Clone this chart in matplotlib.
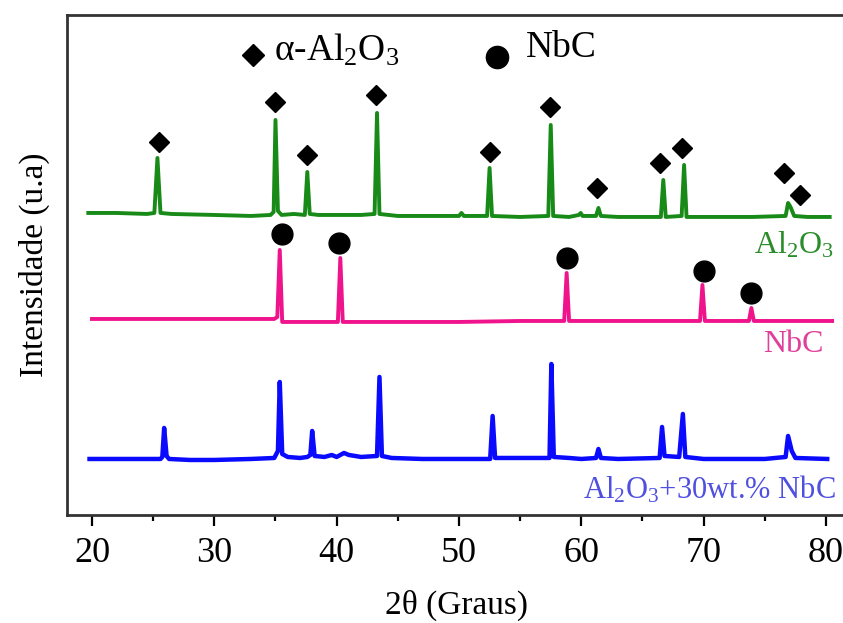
import matplotlib
matplotlib.use('Agg')
import matplotlib.pyplot as plt
from matplotlib.ticker import MultipleLocator

plt.rcParams['font.family'] = ['Liberation Serif', 'DejaVu Serif']
plt.rcParams['mathtext.default'] = 'regular'

# traces: 2-theta (deg) and counts above each trace's own baseline
al2o3_x = [19.7, 22.0, 24.5, 25.1, 25.35, 25.6, 26.5, 30.0, 33.0, 34.6, 34.85, 35.0, 35.2, 35.5,
           36.5, 37.4, 37.6, 37.8, 38.5, 40.0, 42.0, 43.1, 43.3, 43.5, 45.0, 48.0, 50.0, 50.2,
           50.4, 52.3, 52.5, 52.7, 55.0, 57.3, 57.5, 57.7, 59.0, 59.8, 59.95, 60.1, 61.2, 61.4,
           61.6, 63.0, 66.5, 66.7, 66.9, 68.2, 68.4, 68.6, 71.0, 74.0, 76.7, 76.9, 77.1, 77.4,
           78.5, 80.3]
al2o3_y = [2, 2, 1, 2, 57, 2, 1, 0, -1, 0, 3, 95, 4, 0,
           1, 0, 43, 1, 0, 0, 0, 1, 102, 1, -1, -1, -1, 2,
           -1, -1, 47, -1, -2, -1, 90, -1, -2, 0, 2, -1, -1, 7,
           -1, -2, -2, 35, -2, -1, 50, -2, -2, -2, -1, 12, 8, -1,
           -2, -2]

nbc_x = [20.0, 24.0, 28.0, 32.0, 34.9, 35.15, 35.35, 35.55, 36.5, 40.1, 40.3, 40.5, 45.0, 50.0,
         55.0, 58.6, 58.8, 59.0, 62.0, 66.0, 69.7, 69.9, 70.1, 73.7, 73.9, 74.1, 77.0, 80.5]
nbc_y = [1, 1, 1, 1, 1, 3, 70, -2, -2, -2, 62, -2, -2, -2,
         -1, -1, 47, -1, -1, -1, -1, 35, -1, -1, 12, -1, -1, -1]

comp_x = [19.8, 22.0, 24.0, 25.6, 25.75, 25.9, 26.1, 26.3, 28.0, 30.0, 33.0, 34.9, 35.2, 35.35,
          35.55, 36.0, 37.0, 37.6, 37.85, 38.0, 38.2, 39.0, 39.6, 40.0, 40.6, 41.0, 42.0, 43.3,
          43.5, 43.7, 44.5, 47.0, 50.0, 52.55, 52.75, 52.95, 55.0, 57.4, 57.55, 57.75, 59.0,
          60.0, 61.2, 61.4, 61.6, 63.0, 66.4, 66.6, 66.8, 68.0, 68.3, 68.5, 70.0, 73.0, 75.0,
          76.7, 76.9, 77.2, 77.5, 80.1]
comp_y = [0, 0, 0, 0, 2, 31, 3, 0, -1, -1, 0, 1, 8, 77,
          5, 2, 1, 2, 4, 28, 3, 2, 4, 2, 6, 4, 2, 3,
          82, 3, 1, 0, 0, 0, 43, 1, 1, 1, 95, 2, 1,
          0, 1, 10, 1, 0, 1, 32, 3, 2, 45, 2, 0, 0, 0,
          2, 23, 8, 1, 0]

# vertical stacking of the three patterns
offsets = {'al2o3': 300, 'nbc': 195, 'comp': 56}

# phase markers: 2-theta and height
alpha_mark_x = [25.5, 35.0, 37.6, 43.2, 52.5, 57.4, 61.3, 66.4, 68.2, 76.6, 77.9]
alpha_mark_y = [373, 413, 360, 420, 363, 408, 327, 352, 367, 342, 320]
nbc_mark_x = [35.5, 40.2, 58.8, 70.0, 73.9]
nbc_mark_y = [281, 272, 257, 244, 222]

green = '#178a17'
pink = '#f0148c'
blue = '#0a0aff'

fig = plt.figure(figsize=(8.43, 6.23), dpi=100)
ax = fig.add_axes([0.0795, 0.1734, 0.925, 0.8026])

ax.plot(al2o3_x, [v + offsets['al2o3'] for v in al2o3_y], color=green, lw=2.8, solid_joinstyle='round')
ax.plot(nbc_x, [v + offsets['nbc'] for v in nbc_y], color=pink, lw=2.8, solid_joinstyle='round')
ax.plot(comp_x, [v + offsets['comp'] for v in comp_y], color=blue, lw=3.2, solid_joinstyle='round')

ax.plot(alpha_mark_x, alpha_mark_y, 'D', color='black', ms=10, ls='none')
ax.plot(nbc_mark_x, nbc_mark_y, 'o', color='black', ms=15, ls='none')

# legend drawn as markers and text
ax.plot([33.2], [460], 'D', color='black', ms=11)
ax.text(34.9, 465, 'α-Al$_2$O$_3$', fontsize=27, va='center', ha='left')
ax.plot([53.1], [458], 'o', color='black', ms=16)
ax.text(55.5, 467, 'NbC', fontsize=27, va='center', ha='left')

ax.text(80.6, 270, 'Al$_2$O$_3$', color='#2a8c2a', fontsize=23, ha='right', va='center')
ax.text(79.8, 170, 'NbC', color='#e0409a', fontsize=23, ha='right', va='center')
ax.text(80.8, 25, 'Al$_2$O$_3$+30wt.% NbC', color='#5050e0', fontsize=22, ha='right', va='center')

ax.set_xlim(17.96, 81.7)
ax.set_ylim(0, 500)
ax.xaxis.set_major_locator(MultipleLocator(10))
ax.xaxis.set_minor_locator(MultipleLocator(5))
ax.tick_params(axis='x', which='major', direction='out', length=8, width=1.6, labelsize=26, pad=8)
ax.tick_params(axis='x', which='minor', direction='out', length=4, width=1.6)
ax.set_yticks([])
for s in ax.spines.values():
    s.set_linewidth(2.0)
    s.set_color('#333333')
ax.spines['right'].set_visible(False)

ax.set_xlabel('2θ (Graus)', fontsize=24, labelpad=14)
ax.set_ylabel('Intensidade (u.a)', fontsize=24, labelpad=12)

fig.savefig('out.png', dpi=100)
